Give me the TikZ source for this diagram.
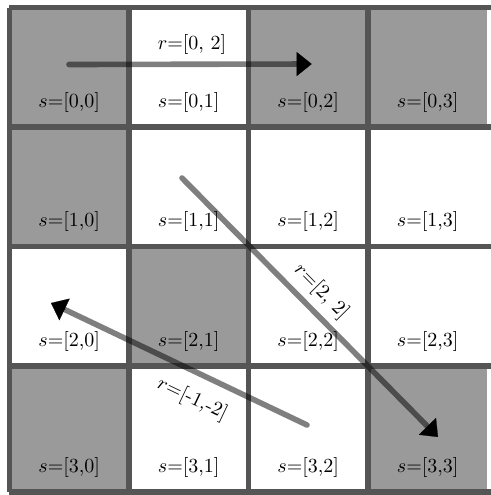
\documentclass[tikz,border=0pt]{standalone}
\usepackage{amsmath}
\usepackage{xcolor}
\usepackage{tikz}
\usetikzlibrary{arrows.meta,calc}

\definecolor{cellgray}{HTML}{9A9A9A}
\definecolor{gridline}{HTML}{555555}

\tikzset{
	cellbox/.style={fill=cellgray},
	gridrule/.style={draw=gridline, line width=2.6pt},
	celllabel/.style={inner sep=0pt},
	moveshaft/.style={draw=black, draw opacity=0.5, line width=2.8pt, line cap=round, shorten >=7pt},
	movetip/.style={-{Triangle[length=7.5pt,width=12pt]}, draw=black, fill=black, line width=0.1pt},
	movelabel/.style={inner sep=0pt, sloped},
}

\begin{document}
\begin{tikzpicture}[x=0.5pt, y=-0.5pt]
		\useasboundingbox (0,0) rectangle (491,495);
		\clip (0,0) rectangle (491,495);

		% gray cells
		\foreach \i/\ya/\yb in {0/7.5/127, 1/127/246.5, 2/246.5/366, 3/366/492}
			\foreach \j in {0,...,3} {
				\pgfmathsetmacro{\xa}{9.5+119.5*\j}
				\pgfmathsetmacro{\xb}{\xa+119.5}
				\coordinate (cell-\i-\j-nw) at (\xa,\ya);
				\coordinate (cell-\i-\j-se) at (\xb,\yb);
			}
		\foreach \i/\j in {0/0, 0/2, 0/3, 1/0, 2/1, 3/0, 3/3}
			\fill[cellbox] (cell-\i-\j-nw) rectangle (cell-\i-\j-se);

		% grid lines
		\foreach \x in {9.5, 129, 248.5, 368}
			\draw[gridrule] (\x,7.5) -- (\x,492);
		\foreach \y in {7.5, 127, 246.5, 366, 492}
			\draw[gridrule] (9.5,\y) -- (500,\y);

		% state labels
		\foreach \i/\yb in {0/127, 1/246.5, 2/366, 3/492}
			\foreach \j in {0,...,3} {
				\pgfmathsetmacro{\xc}{69.25+119.5*\j}
				\node[celllabel] (s-\i-\j) at (\xc,\yb-25) {$s$=[\i,\j]};
			}

		% moves
		\coordinate (moveA-from) at (69,64.5);
		\coordinate (moveA-to) at (311.7,64);
		\coordinate (moveB-from) at (182,178);
		\coordinate (moveB-to) at (438,437);
		\coordinate (moveC-from) at (307,425);
		\coordinate (moveC-to) at (51,303);

		\draw[moveshaft] (moveA-from) -- (moveA-to)
			node[movelabel, pos=0.507, above=3.5pt] (rA) {$r$=[0, 2]};
		\draw[moveshaft] (moveB-from) -- (moveB-to)
			node[movelabel, pos=0.49, above=3.3pt] (rB) {$r$=[2, 2]};
		\draw[moveshaft] (moveC-from) -- (moveC-to)
			node[movelabel, pos=0.405, below=6.5pt] (rC) {$r$=[-1,-2]};

		\foreach \m in {A,B,C}
			\draw[movetip] ($(move\m-to)!8pt!(move\m-from)$) -- (move\m-to);
	\end{tikzpicture}
\end{document}
